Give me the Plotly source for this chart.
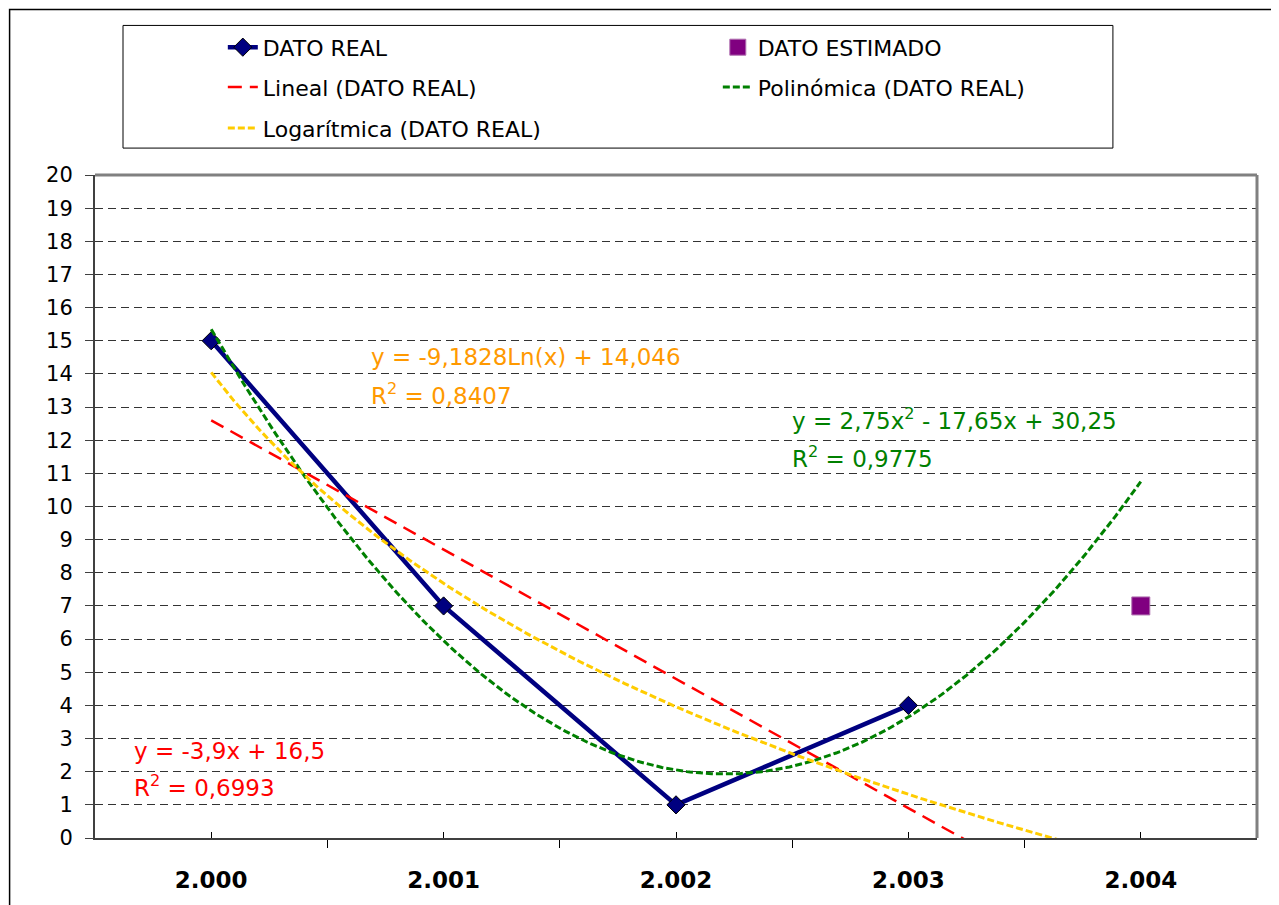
import numpy as np
import plotly.graph_objects as go

# valores
years = ["2.000", "2.001", "2.002", "2.003", "2.004"]
real_idx = [0, 1, 2, 3]
real_vals = [15, 7, 1, 4]
est_idx = [4]
est_vals = [7]

eq_lineal = ["y = -3,9x + 16,5", "R<sup>2</sup> = 0,6993"]
eq_log = ["y = -9,1828Ln(x) + 14,046", "R<sup>2</sup> = 0,8407"]
eq_poly = ["y = 2,75x<sup>2</sup> - 17,65x + 30,25", "R<sup>2</sup> = 0,9775"]

FONT = "DejaVu Sans"

# líneas de tendencia estilo Excel (x = 1..n), con pronóstico de 1 periodo
xs = np.array(real_idx) + 1.0
ys = np.array(real_vals, dtype=float)
grid = np.linspace(1, 5, 300)
lin = np.polyval(np.polyfit(xs, ys, 1), grid)
poly = np.polyval(np.polyfit(xs, ys, 2), grid)
logc = np.polyfit(np.log(xs), ys, 1)
logy = logc[0] * np.log(grid) + logc[1]
gx = grid - 1

fig = go.Figure()
fig.add_trace(go.Scatter(
    x=real_idx, y=real_vals, name="DATO REAL", mode="lines+markers",
    line=dict(color="#000080", width=4.5),
    marker=dict(symbol="diamond", size=14, color="#000080",
                line=dict(color="#000000", width=1)),
    legend="legend",
))
fig.add_trace(go.Scatter(
    x=est_idx, y=est_vals, name="DATO ESTIMADO", mode="markers",
    marker=dict(symbol="square", size=18, color="#800080",
                line=dict(color="#b070b0", width=1)),
    legend="legend",
))
fig.add_trace(go.Scatter(
    x=gx, y=lin, name="Lineal (DATO REAL)", mode="lines",
    line=dict(color="#ff0000", width=2.5, dash="14px,8px"), legend="legend2",
))
fig.add_trace(go.Scatter(
    x=gx, y=poly, name="Polinómica (DATO REAL)", mode="lines",
    line=dict(color="#008000", width=3, dash="7px,3px"), legend="legend2",
))
fig.add_trace(go.Scatter(
    x=gx, y=logy, name="Logarítmica (DATO REAL)", mode="lines",
    line=dict(color="#ffcc00", width=3, dash="7px,3px"), legend="legend3",
))


def add_eq(lines, x, y1, y2, color):
    for text, y in zip(lines, (y1, y2)):
        fig.add_annotation(x=x, y=y, xref="x", yref="y", text=text,
                           showarrow=False, xanchor="left", yanchor="middle",
                           font=dict(family=FONT, size=23, color=color))


add_eq(eq_lineal, -0.34, 2.62, 1.56, "#ff0000")
add_eq(eq_log, 0.68, 14.50, 13.38, "#ff9900")
add_eq(eq_poly, 2.49, 12.63, 11.49, "#008000")

leg = dict(orientation="h", entrywidth=450, entrywidthmode="pixels",
           bgcolor="rgba(0,0,0,0)", borderwidth=0, xanchor="left",
           yanchor="middle", x=0.110, font=dict(family=FONT, size=22, color="#000"))

fig.update_layout(
    width=1271, height=897,
    margin=dict(l=87, r=22, t=167, b=65),
    paper_bgcolor="white", plot_bgcolor="white",
    font=dict(family=FONT, size=18, color="#000"),
    showlegend=True,
    legend=dict(leg, y=1.1925),
    legend2=dict(leg, y=1.1323),
    legend3=dict(leg, y=1.0707),
    shapes=[
        # marco del área del gráfico
        dict(type="rect", xref="paper", yref="paper", x0=-0.0735, x1=1.03,
             y0=-0.11, y1=1.2496, line=dict(color="#000", width=1.5)),
        # marco de la leyenda
        dict(type="rect", xref="paper", yref="paper", x0=0.0241, x1=0.876,
             y0=1.0406, y1=1.2256, line=dict(color="#000", width=1)),
        # bordes superior y derecho del área de trazado
        dict(type="line", xref="paper", yref="paper", x0=0, x1=1, y0=1, y1=1,
             line=dict(color="#808080", width=3)),
        dict(type="line", xref="paper", yref="paper", x0=1, x1=1, y0=0, y1=1,
             line=dict(color="#808080", width=3)),
    ],
)

fig.update_xaxes(
    range=[-0.5, 4.5], tickvals=list(range(len(years))), ticktext=years,
    ticks="inside", ticklen=6, tickcolor="#000", tickwidth=1,
    minor=dict(tickvals=[i - 0.5 for i in range(len(years) + 1)],
               ticks="outside", ticklen=8, tickcolor="#000", tickwidth=1),
    showgrid=False, zeroline=False, showline=True, linecolor="#404040", linewidth=2,
    tickfont=dict(family=FONT, size=23, color="#000", weight="bold"),
    ticklabelstandoff=20,
)
fig.update_yaxes(
    range=[0, 20], dtick=1, ticks="outside", ticklen=8, tickcolor="#404040",
    showgrid=True, gridcolor="#333", griddash="8px,5px", gridwidth=1,
    zeroline=False, showline=True, linecolor="#404040", linewidth=2,
    tickfont=dict(family=FONT, size=21, color="#000"),
    ticklabelstandoff=8,
)

fig.write_html("out.html")
